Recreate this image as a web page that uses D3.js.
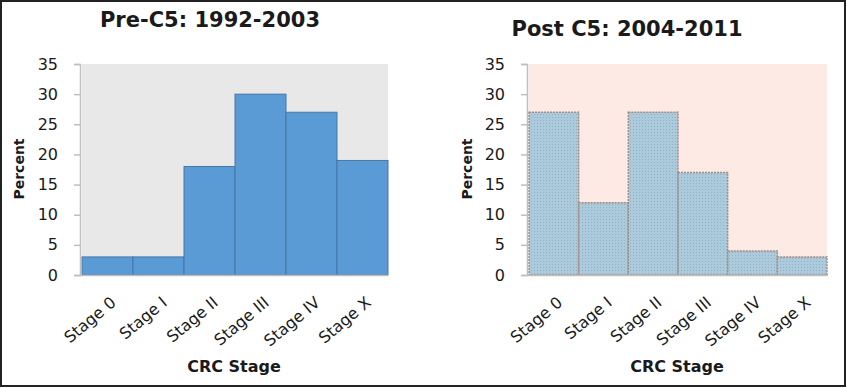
<!DOCTYPE html>
<html>
<head>
<meta charset="utf-8">
<script src="https://cdn.jsdelivr.net/npm/d3@7"></script>
<style>
  body { margin: 0; background: #fff; }
  svg text { font-family: "DejaVu Sans", sans-serif; fill: #1a1a1a; }
</style>
</head>
<body>
<svg id="chart" width="847" height="388"></svg>
<script>
var categories = ["Stage 0", "Stage I", "Stage II", "Stage III", "Stage IV", "Stage X"];
var preValues = [3, 3, 18, 30, 27, 19];
var postValues = [27, 12, 27, 17, 4, 3];
var yTicks = [0, 5, 10, 15, 20, 25, 30, 35];
var titles = ["Pre-C5: 1992-2003", "Post C5: 2004-2011"];

var svg = d3.select("#chart");

// dotted fill used by the post C5 bars
var defs = svg.append("defs");
var pat = defs.append("pattern")
  .attr("id", "dots")
  .attr("width", 3).attr("height", 3)
  .attr("patternUnits", "userSpaceOnUse");
pat.append("rect").attr("width", 3).attr("height", 3).attr("fill", "#abcadb");
pat.append("rect").attr("width", 1).attr("height", 1).attr("fill", "#93b4c6");

svg.append("rect")
  .attr("x", 1).attr("y", 1)
  .attr("width", 844).attr("height", 385)
  .attr("fill", "#fff")
  .attr("stroke", "#222")
  .attr("stroke-width", 2);

var panels = [
  { title: titles[0], values: preValues, left: 82, right: 388, titleX: 210, titleY: 27, labelX: 24,
    bg: "#e8e8e8", fill: "#5b9bd5", stroke: "#4677a8", dash: null },
  { title: titles[1], values: postValues, left: 529, right: 827, titleX: 627, titleY: 36, labelX: 472,
    bg: "#fdeae4", fill: "url(#dots)", stroke: "#a48d84", dash: "2,1" }
];

var plotTop = 64, plotBottom = 275;

panels.forEach(function(p) {
  var x = d3.scaleBand().domain(categories).range([p.left, p.right]).padding(0);
  var y = d3.scaleLinear().domain([0, 35]).range([plotBottom, plotTop]);
  var g = svg.append("g");

  g.append("rect")
    .attr("x", p.left).attr("y", plotTop)
    .attr("width", p.right - p.left).attr("height", plotBottom - plotTop)
    .attr("fill", p.bg);

  g.selectAll("rect.bar")
    .data(p.values)
    .enter().append("rect")
    .attr("class", "bar")
    .attr("x", function(d, i) { return x(categories[i]); })
    .attr("y", function(d) { return y(d); })
    .attr("width", x.bandwidth())
    .attr("height", function(d) { return y(0) - y(d); })
    .attr("fill", p.fill)
    .attr("stroke", p.stroke)
    .attr("stroke-width", p.dash ? 1.5 : 1)
    .attr("stroke-dasharray", p.dash);

  // y axis
  var yAxis = d3.axisLeft(y).tickValues(yTicks).tickSize(6).tickPadding(16);
  var ay = g.append("g")
    .attr("transform", "translate(" + (p.left - 2) + ",0)")
    .call(yAxis);
  ay.select(".domain").attr("stroke", "#bfbfbf").attr("stroke-width", 1.5);
  ay.selectAll(".tick line").attr("stroke", "#bfbfbf").attr("stroke-width", 1.5);
  ay.selectAll(".tick text")
    .attr("font-size", 16)
    .attr("fill", "#1a1a1a")
    .style("font-family", "'DejaVu Sans', sans-serif");

  // x axis line
  g.append("line")
    .attr("x1", p.left - 2).attr("x2", p.right)
    .attr("y1", plotBottom + 0.5).attr("y2", plotBottom + 0.5)
    .attr("stroke", "#bfbfbf").attr("stroke-width", 1.5);

  g.selectAll("text.xlab")
    .data(categories)
    .enter().append("text")
    .attr("class", "xlab")
    .attr("text-anchor", "end")
    .attr("dy", "0.35em")
    .attr("font-size", 16)
    .attr("transform", function(d) {
      return "translate(" + (x(d) + x.bandwidth() / 2 + 6) + ",300) rotate(-40)";
    })
    .text(function(d) { return d; });

  g.append("text")
    .attr("x", p.titleX)
    .attr("y", p.titleY)
    .attr("text-anchor", "middle")
    .attr("font-size", 21)
    .attr("font-weight", "bold")
    .text(p.title);

  g.append("text")
    .attr("transform", "translate(" + p.labelX + "," + 169 + ") rotate(-90)")
    .attr("text-anchor", "middle")
    .attr("font-size", 14)
    .attr("font-weight", "bold")
    .text("Percent");

  g.append("text")
    .attr("x", (p.left + p.right) / 2 - 1)
    .attr("y", 372)
    .attr("text-anchor", "middle")
    .attr("font-size", 16)
    .attr("font-weight", "bold")
    .text("CRC Stage");
});
</script>
</body>
</html>
